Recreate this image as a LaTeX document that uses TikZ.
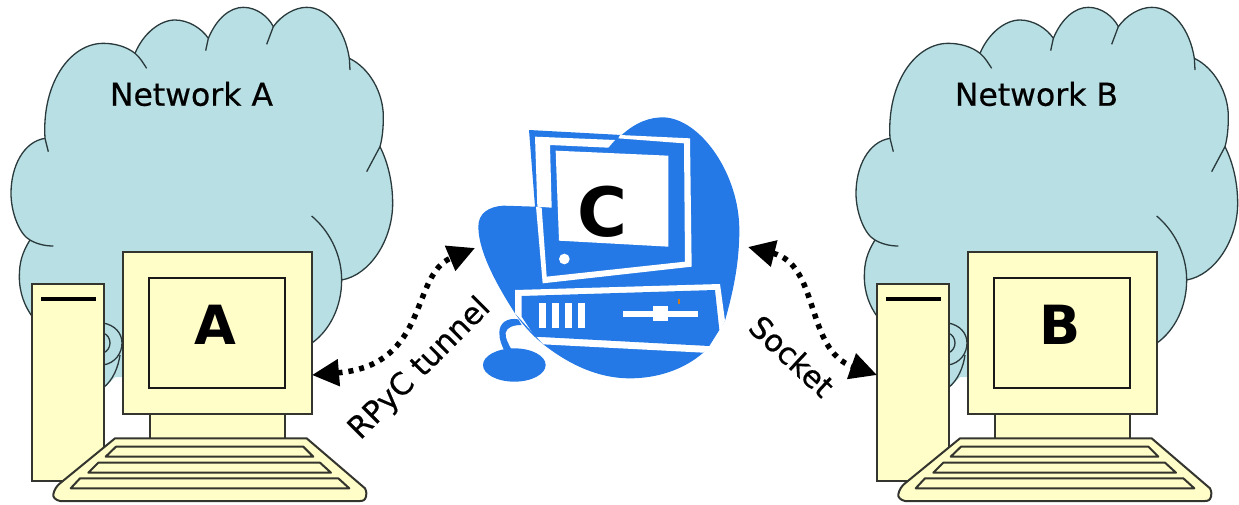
\documentclass[tikz,border=0pt]{standalone}
\usepackage{fontspec}
\setmainfont{DejaVu Sans}
\newfontfamily\labelfont[FakeBold=0.5]{DejaVu Sans}
\usetikzlibrary{arrows.meta,calc}
\definecolor{cloudblue}{HTML}{B8DFE3}
\definecolor{cream}{HTML}{FFFDC8}
\definecolor{edgegrey}{HTML}{33352E}
\definecolor{cloudedge}{HTML}{2A3A3C}
\definecolor{pcblue}{HTML}{2479E6}
\definecolor{speck}{HTML}{D07A20}
\tikzset{
  fine/.style={x=0.33333pt,y=-0.33333pt},
  cloudline/.style={draw=cloudedge,line width=1.3pt},
  partbox/.style={draw=edgegrey,fill=cream,line width=2pt,inner sep=0pt,outer sep=0pt},
  screenbox/.style={draw=black!90,fill=cream,line width=1.7pt,inner sep=0pt,outer sep=0pt},
  keyrow/.style={draw=edgegrey,fill=cream,line width=2pt,line join=round},
  netlabel/.style={inner sep=0pt,font=\labelfont\fontsize{31.5}{36}\selectfont},
  bigletter/.style={inner sep=0pt,font=\bfseries\fontsize{54}{60}\selectfont},
  linklabel/.style={inner sep=0pt,font=\labelfont\fontsize{30.5}{34}\selectfont},
  dotlink/.style={draw=black,line width=5.5pt,dash pattern=on 5pt off 6pt,
     {Triangle[length=27pt,width=26pt,fill=black]}-{Triangle[length=27pt,width=26pt,fill=black]}},
  pcwhite/.style={fill=white,draw=none},
  pcfill/.style={fill=pcblue,draw=none},
}
\newcommand{\station}[3]{% x offset, letter, network text
  \begin{scope}[shift={(#1,0)}]
  % cloud
  \begin{scope}[fine]
    \path[fill=cloudblue] (135,415) .. controls (125,250) and (210,130) .. (310,130)
      .. controls (345,130) and (380,140) .. (405,160)
      .. controls (430,100) and (480,60) .. (525,60)
      .. controls (565,60) and (605,85) .. (625,115)
      .. controls (650,55) and (690,22) .. (730,22)
      .. controls (770,22) and (805,50) .. (820,80)
      .. controls (845,45) and (885,22) .. (920,22)
      .. controls (985,22) and (1035,90) .. (1048,175)
      .. controls (1110,205) and (1150,280) .. (1150,350)
      .. controls (1150,385) and (1147,415) .. (1140,440)
      .. controls (1165,490) and (1178,550) .. (1178,610)
      .. controls (1178,720) and (1110,825) .. (1025,840)
      .. controls (1025,920) and (990,990) .. (936,1029)
      -- (936,1131) -- (345,1131) .. controls (335,1140) and (325,1155) .. (309,1164)
      -- (97,1164) -- (97,950)
      .. controls (75,920) and (58,880) .. (58,830)
      .. controls (58,790) and (65,760) .. (90,720)
      .. controls (60,705) and (33,640) .. (33,580)
      .. controls (33,500) and (70,425) .. (135,415) -- cycle;
    \draw[cloudline] (145,455) -- (135,415) .. controls (125,250) and (210,130) .. (310,130)
      .. controls (345,130) and (380,140) .. (405,160) .. controls (420,172) and (430,190) .. (440,205);
    \draw[cloudline] (405,160) .. controls (430,100) and (480,60) .. (525,60)
      .. controls (565,60) and (605,85) .. (625,115) -- (617,152);
    \draw[cloudline] (625,115) .. controls (650,55) and (690,22) .. (730,22)
      .. controls (770,22) and (805,50) .. (820,80) -- (800,133);
    \draw[cloudline] (820,80) .. controls (845,45) and (885,22) .. (920,22)
      .. controls (985,22) and (1035,90) .. (1048,175) -- (1050,210);
    \draw[cloudline] (1048,175) .. controls (1110,205) and (1150,280) .. (1150,350)
      .. controls (1150,385) and (1147,415) .. (1140,440) -- (1100,515);
    \draw[cloudline] (1140,440) .. controls (1165,490) and (1178,550) .. (1178,610)
      .. controls (1178,720) and (1110,825) .. (1025,840);
    \draw[cloudline] (935,648) .. controls (985,690) and (1025,760) .. (1025,840)
      .. controls (1025,920) and (990,990) .. (936,1029);
    \draw[cloudline] (135,415) .. controls (70,425) and (33,500) .. (33,580)
      .. controls (33,640) and (60,705) .. (90,720) .. controls (110,732) and (135,738) .. (160,738);
    \draw[cloudline] (90,720) .. controls (65,760) and (58,790) .. (58,830)
      .. controls (58,880) and (75,920) .. (97,950);
    % spirals between tower and monitor
    \draw[cloudline] (309,969) .. controls (345,975) and (366,1000) .. (366,1029)
      .. controls (366,1060) and (345,1090) .. (309,1095);
    \draw[cloudline] (309,999) .. controls (322,1003) and (330,1015) .. (330,1029)
      .. controls (330,1042) and (322,1055) .. (309,1059);
    \draw[cloudline] (360,1065) .. controls (355,1100) and (340,1140) .. (309,1164);
  \end{scope}
  \node[netlabel] (net#2) at (191.5,94) {#3};
  % tower
  \node[partbox,minimum width=72pt,minimum height=197pt] (tower#2) at (68,382.5) {};
  \draw[black,line width=3.5pt] (41,299) -- (96,299);
  % neck
  \node[partbox,minimum width=135pt,minimum height=26pt] (neck#2) at (217.5,426) {};
  % monitor
  \node[partbox,minimum width=189pt,minimum height=162pt] (monitor#2) at (217.5,333) {};
  \node[screenbox,minimum width=136pt,minimum height=110pt] (screen#2) at (217,333) {};
  \node[bigletter] (letter#2) at (215.5,325) {#2};
  % keyboard
  \begin{scope}[shift={(40,425)},fine]
    \draw[keyrow] (225,40) -- (800,40) -- (975,190) .. controls (980,200) and (980,210) .. (978,215)
      .. controls (975,225) and (970,228) .. (960,228) -- (60,228)
      .. controls (45,225) and (38,215) .. (40,208) .. controls (42,195) and (50,183) .. (60,175) -- cycle;
    \draw[keyrow] (228,65) -- (790,65) -- (820,95) -- (197,95) -- cycle;
    \draw[keyrow] (175,113) -- (840,113) -- (873,143) -- (145,143) -- cycle;
    \draw[keyrow] (120,160) -- (895,160) -- (928,190) -- (92,190) -- cycle;
  \end{scope}
  \end{scope}}
\begin{document}
\begin{tikzpicture}[x=1pt,y=-1pt]
\useasboundingbox (0,0) rectangle (1239,504);
\station{0}{A}{Network A}
\station{845}{B}{Network B}
% computer C
\begin{scope}[shift={(460,110)},fine]
  \path[pcfill] (485,75) .. controls (530,35) and (570,22) .. (610,22)
    .. controls (720,25) and (838,190) .. (838,360)
    .. controls (838,470) and (815,560) .. (795,632) -- (730,728)
    .. controls (670,780) and (590,805) .. (510,805)
    .. controls (400,805) and (310,750) .. (250,703)
    .. controls (210,670) and (185,640) .. (165,610)
    .. controls (120,540) and (55,430) .. (55,350)
    .. controls (55,310) and (85,290) .. (130,287) -- (225,290) -- (207,60) -- cycle;
  \path[pcwhite] (225,80) -- (465,90) -- (445,113) -- (270,105) -- (275,293) -- (232,290) -- cycle;
  \path[pcwhite] (480,75) -- (690,85) -- (695,470) -- (248,520) -- (228,290) -- (245,293)
    -- (260,500) -- (675,455) -- (672,100) -- (475,85) -- cycle;
  \path[pcwhite] (287,122) -- (625,137) -- (625,410) -- (297,392) -- cycle;
  \path[pcwhite] (313,447) circle[x radius=16,y radius=16];
  \path[pcwhite] (165,540) -- (780,522) -- (795,632) -- (778,662) -- (748,708) -- (730,728)
    -- (250,703) -- (165,610) -- cycle;
  \path[pcfill] (185,558) -- (765,540) -- (778,660) -- (748,708) -- (225,680) -- (185,620) -- cycle;
  \foreach \xa/\xb in {237/258,277/297,315/335,355/375}
    \path[pcwhite] (\xa,580) rectangle (\xb,653);
  \path[pcwhite] (490,603) rectangle (713,622);
  \path[pcwhite] (578,587) rectangle (625,633);
  \path[fill=speck] (655,568) rectangle (661,581);
  \path[pcfill] (175,628) .. controls (140,622) and (118,640) .. (118,668)
    .. controls (118,690) and (125,705) .. (132,720) -- (155,720)
    .. controls (145,700) and (135,685) .. (137,668)
    .. controls (140,652) and (160,645) .. (185,645) -- cycle;
  \path[pcfill] (163,765) circle[x radius=94,y radius=50];
\end{scope}
\node[inner sep=0pt,font=\bfseries\fontsize{68}{72}\selectfont] (letterC) at (602,212) {C};
% connectors
\coordinate (cWest) at (475,248);
\coordinate (cEast) at (748,247);
\draw[dotlink] ($(monitorA.east)+(0,42)$) .. controls (430,365) and (410,275) .. (cWest);
\draw[dotlink] (cEast) .. controls (820,265) and (805,350) .. ($(towerB.west)+(0,-7.5)$);
\node[linklabel,rotate=45] (tunnel) at (420,369) {RPyC tunnel};
\node[linklabel,rotate=-43] (socket) at (792,356) {Socket};
\end{tikzpicture}
\end{document}
